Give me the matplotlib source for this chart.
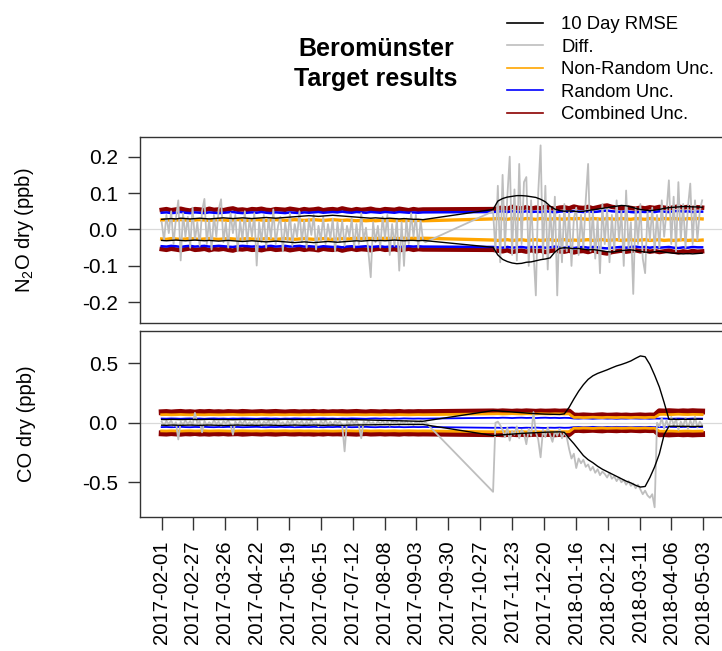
import numpy as np
import pandas as pd
import matplotlib
matplotlib.use('Agg')
import matplotlib.pyplot as plt
from matplotlib.lines import Line2D

plt.rcParams['font.family'] = ['Liberation Sans', 'DejaVu Sans']
plt.rcParams['mathtext.default'] = 'regular'

# time axes: diff every 2 days, uncertainties / rmse every 4 days (gap Sep-Nov 2017)
diff_dates = pd.DatetimeIndex(list(pd.date_range('2017-02-01', periods=112, freq='2D')) +
                              list(pd.date_range('2017-11-07', periods=89, freq='2D')))
unc_dates = pd.DatetimeIndex(list(pd.date_range('2017-02-01', periods=56, freq='4D')) +
                             list(pd.date_range('2017-11-07', periods=45, freq='4D')))

tick_labels = ['2017-02-01', '2017-02-27', '2017-03-26', '2017-04-22', '2017-05-19',
               '2017-06-15', '2017-07-12', '2017-08-08', '2017-09-03', '2017-09-30',
               '2017-10-27', '2017-11-23', '2017-12-20', '2018-01-16', '2018-02-12',
               '2018-03-11', '2018-04-06', '2018-05-03']

# ---------------- N2O ----------------
diff_n2o = [0.02, -0.03, 0.04, -0.01, 0.05, -0.04, 0.03, 0.08, -0.085, 0.045,
            -0.02, 0.035, -0.05, 0.06, -0.03, 0.02, -0.045, 0.05, 0.084, -0.04,
            0.03, -0.055, 0.04, -0.02, 0.055, 0.083, -0.035, 0.02, -0.05, 0.045,
            -0.01, 0.04, -0.06, 0.025, -0.03, 0.05, -0.04, 0.03, -0.02, 0.045,
            -0.099, 0.02, -0.035, 0.04, -0.05, 0.03, -0.025, 0.055, -0.04, 0.01,
            0.035, -0.06, 0.02, -0.03, 0.045, -0.045, 0.015, -0.02, 0.05, -0.035,
            0.025, -0.05, 0.03, -0.015, 0.04, -0.055, 0.01, -0.03, 0.035, -0.04,
            0.015, -0.025, 0.03, -0.06, 0.02, -0.035, 0.025, -0.045, 0.01, -0.02,
            0.03, -0.05, 0.015, -0.04, 0.045, -0.03, 0.005, -0.06, -0.131, 0.02,
            -0.035, 0.01, -0.05, 0.035, -0.025, 0.04, -0.07, 0.015, -0.045, 0.03,
            -0.113, 0.02, -0.1, 0.03, -0.04, 0.045, -0.02, 0.04, -0.05, 0.025,
            -0.03, -0.035,
            0.05, -0.06, 0.12, -0.09, 0.15, -0.05, 0.09, 0.2, -0.07, 0.11,
            -0.085, 0.18, -0.04, 0.13, 0.144, -0.1, 0.08, -0.06, -0.181, 0.1,
            0.231, -0.08, 0.12, -0.11, 0.06, -0.05, 0.09, -0.181, 0.04, -0.09,
            0.07, -0.06, 0.05, -0.1, 0.03, 0.06, -0.07, 0.04, -0.05, 0.08,
            0.18, -0.06, 0.05, -0.08, 0.03, -0.12, 0.07, -0.04, 0.06, -0.09,
            0.04, -0.06, 0.08, -0.03, 0.05, -0.1, 0.107, -0.05, 0.02, -0.177,
            0.06, -0.04, 0.07, -0.08, -0.12, 0.05, -0.03, 0.06, -0.06, 0.04,
            -0.05, 0.08, -0.02, 0.05, 0.135, -0.04, 0.09, -0.06, 0.13, -0.03,
            0.07, -0.05, 0.06, 0.126, -0.04, 0.08, -0.03, 0.05, 0.08]

rmse_n2o_up = [0.028, 0.029, 0.030, 0.029, 0.031, 0.030, 0.029, 0.030, 0.031, 0.030,
               0.029, 0.030, 0.031, 0.032, 0.031, 0.030, 0.031, 0.032, 0.031, 0.030,
               0.031, 0.032, 0.033, 0.032, 0.031, 0.032, 0.033, 0.034, 0.035, 0.036,
               0.037, 0.038, 0.037, 0.036, 0.037, 0.038, 0.039, 0.038, 0.037, 0.036,
               0.035, 0.034, 0.033, 0.032, 0.031, 0.032, 0.031, 0.030, 0.031, 0.030,
               0.029, 0.030, 0.029, 0.028, 0.028, 0.027,
               0.055, 0.078, 0.085, 0.089, 0.091, 0.093, 0.093, 0.092, 0.090, 0.088,
               0.083, 0.076, 0.064, 0.056, 0.052, 0.050, 0.051, 0.050, 0.049, 0.050,
               0.052, 0.054, 0.056, 0.058, 0.060, 0.062, 0.064, 0.066, 0.065, 0.062,
               0.058, 0.055, 0.053, 0.052, 0.053, 0.055, 0.058, 0.060, 0.061, 0.062,
               0.063, 0.063, 0.062, 0.062, 0.061]
rmse_n2o_lo = [-0.030, -0.031, -0.030, -0.029, -0.030, -0.031, -0.030, -0.029, -0.030, -0.031,
               -0.030, -0.031, -0.032, -0.031, -0.030, -0.031, -0.032, -0.033, -0.032, -0.031,
               -0.032, -0.033, -0.034, -0.033, -0.032, -0.033, -0.034, -0.035, -0.036, -0.035,
               -0.034, -0.035, -0.036, -0.035, -0.034, -0.033, -0.034, -0.035, -0.034, -0.033,
               -0.032, -0.031, -0.032, -0.031, -0.030, -0.031, -0.030, -0.031, -0.030, -0.029,
               -0.030, -0.031, -0.030, -0.030, -0.031, -0.030,
               -0.049, -0.070, -0.082, -0.088, -0.092, -0.094, -0.093, -0.090, -0.089, -0.086,
               -0.083, -0.081, -0.078, -0.062, -0.052, -0.050, -0.051, -0.053, -0.052, -0.054,
               -0.056, -0.055, -0.057, -0.059, -0.061, -0.062, -0.060, -0.058, -0.057, -0.056,
               -0.058, -0.060, -0.062, -0.063, -0.061, -0.060, -0.062, -0.064, -0.065, -0.066,
               -0.067, -0.066, -0.067, -0.066, -0.065]

comb_n2o = [0.054, 0.056, 0.053, 0.055, 0.057, 0.054, 0.052, 0.056, 0.055, 0.053,
            0.057, 0.054, 0.055, 0.053, 0.056, 0.058, 0.054, 0.055, 0.053, 0.056,
            0.055, 0.057, 0.054, 0.053, 0.056, 0.055, 0.054, 0.057, 0.055, 0.053,
            0.056, 0.054, 0.055, 0.057, 0.053, 0.055, 0.056, 0.054, 0.058, 0.055,
            0.053, 0.056, 0.054, 0.055, 0.057, 0.054, 0.053, 0.056, 0.055, 0.054,
            0.057, 0.055, 0.053, 0.056, 0.054, 0.055,
            0.056, 0.058, 0.060, 0.057, 0.062, 0.059, 0.058, 0.061, 0.057, 0.060,
            0.058, 0.062, 0.059, 0.057, 0.060, 0.061, 0.058, 0.063, 0.060, 0.059,
            0.062, 0.058, 0.061, 0.064, 0.066, 0.062, 0.060, 0.058, 0.061, 0.059,
            0.057, 0.060, 0.058, 0.061, 0.059, 0.062, 0.060, 0.058, 0.061, 0.063,
            0.060, 0.062, 0.059, 0.061, 0.060]
rand_n2o = [0.046, 0.047, 0.045, 0.046, 0.048, 0.046, 0.045, 0.047, 0.046, 0.045,
            0.047, 0.046, 0.045, 0.046, 0.047, 0.048, 0.046, 0.045, 0.046, 0.047,
            0.046, 0.048, 0.046, 0.045, 0.047, 0.046, 0.045, 0.047, 0.046, 0.045,
            0.047, 0.046, 0.047, 0.048, 0.046, 0.047, 0.048, 0.047, 0.049, 0.047,
            0.046, 0.048, 0.047, 0.046, 0.048, 0.047, 0.046, 0.048, 0.047, 0.046,
            0.048, 0.047, 0.046, 0.047, 0.046, 0.047,
            0.048, 0.049, 0.050, 0.048, 0.050, 0.049, 0.048, 0.050, 0.048, 0.049,
            0.048, 0.050, 0.049, 0.047, 0.049, 0.050, 0.048, 0.051, 0.049, 0.048,
            0.050, 0.048, 0.049, 0.051, 0.052, 0.050, 0.049, 0.048, 0.050, 0.048,
            0.047, 0.049, 0.048, 0.050, 0.048, 0.050, 0.049, 0.048, 0.050, 0.051,
            0.049, 0.050, 0.048, 0.049, 0.049]
nonr_n2o = [0.026, 0.027, 0.025, 0.026, 0.027, 0.026, 0.025, 0.026, 0.027, 0.026,
            0.025, 0.026, 0.027, 0.026, 0.025, 0.026, 0.027, 0.026, 0.025, 0.026,
            0.027, 0.026, 0.025, 0.026, 0.027, 0.026, 0.025, 0.026, 0.027, 0.026,
            0.025, 0.026, 0.027, 0.026, 0.025, 0.026, 0.027, 0.026, 0.025, 0.026,
            0.025, 0.024, 0.025, 0.024, 0.025, 0.024, 0.025, 0.024, 0.025, 0.024,
            0.025, 0.024, 0.025, 0.024, 0.025, 0.024,
            0.029, 0.030, 0.029, 0.028, 0.030, 0.029, 0.028, 0.030, 0.029, 0.028,
            0.030, 0.029, 0.028, 0.030, 0.029, 0.028, 0.030, 0.029, 0.030, 0.029,
            0.028, 0.030, 0.029, 0.028, 0.030, 0.029, 0.028, 0.030, 0.029, 0.028,
            0.030, 0.029, 0.028, 0.030, 0.029, 0.028, 0.030, 0.029, 0.030, 0.029,
            0.028, 0.030, 0.029, 0.030, 0.029]

# ---------------- CO ----------------
diff_co = [0.01, -0.02, 0.015, -0.01, 0.02, -0.025, 0.005, -0.14, 0.01, -0.015,
           0.02, -0.01, 0.015, -0.02, 0.084, -0.005, 0.01, -0.08, 0.015, -0.02,
           0.005, -0.015, 0.02, -0.01, 0.01, -0.025, 0.015, -0.005, 0.02, -0.015,
           -0.1, 0.01, -0.02, 0.015, -0.01, 0.02, -0.015, 0.005, -0.02, 0.01,
           -0.01, 0.02, -0.025, 0.01, -0.005, 0.015, -0.02, 0.01, -0.015, 0.02,
           -0.01, 0.005, -0.02, 0.015, -0.01, 0.02, -0.025, 0.01, -0.005, 0.015,
           -0.02, 0.01, -0.015, 0.02, -0.01, 0.005, -0.03, 0.015, -0.01, 0.02,
           -0.015, 0.01, -0.02, 0.015, -0.005, 0.01, -0.02, -0.24, 0.01, -0.015,
           0.02, -0.01, 0.015, -0.02, -0.13, 0.01, -0.015, 0.02, -0.01, 0.005,
           -0.02, 0.015, -0.01, 0.02, -0.015, 0.01, -0.025, 0.015, -0.005, 0.01,
           -0.02, 0.015, -0.01, 0.02, -0.015, 0.005, -0.02, 0.01, -0.01, 0.015,
           -0.01, 0.005,
           -0.58, 0.0, 0.01, -0.02, -0.06, -0.12, -0.04, -0.15, -0.07, -0.1,
           -0.03, -0.13, -0.06, -0.09, -0.18, -0.05, -0.11, 0.09, -0.08, -0.14,
           -0.29, -0.06, -0.12, -0.04, -0.1, -0.16, -0.07, -0.11, -0.05, -0.13,
           -0.08, -0.12, -0.22, -0.3, -0.26, -0.38, -0.3, -0.34, -0.31, -0.37,
           -0.35, -0.4, -0.37, -0.42, -0.39, -0.44, -0.41, -0.43, -0.46, -0.42,
           -0.47, -0.45, -0.49, -0.46, -0.5, -0.48, -0.52, -0.49, -0.53, -0.51,
           -0.55, -0.52, -0.56, -0.6, -0.57, -0.61, -0.63, -0.6, -0.71, 0.0,
           -0.03, 0.04, -0.05, 0.02, -0.04, 0.05, -0.02, 0.03, -0.06, 0.01,
           -0.03, 0.04, -0.05, 0.02, -0.03, 0.05, -0.04, 0.01, -0.02]

rmse_co_up = [0.028, 0.027, 0.029, 0.028, 0.027, 0.028, 0.029, 0.028, 0.027, 0.028,
              0.029, 0.028, 0.027, 0.028, 0.027, 0.026, 0.027, 0.028, 0.027, 0.026,
              0.027, 0.028, 0.027, 0.026, 0.027, 0.028, 0.029, 0.028, 0.027, 0.028,
              0.027, 0.026, 0.027, 0.028, 0.027, 0.028, 0.029, 0.028, 0.027, 0.026,
              0.027, 0.026, 0.025, 0.024, 0.023, 0.022, 0.021, 0.020, 0.019, 0.018,
              0.017, 0.016, 0.015, 0.014, 0.013, 0.013,
              0.103, 0.100, 0.097, 0.094, 0.091, 0.088, 0.085, 0.082, 0.079, 0.077,
              0.075, 0.073, 0.072, 0.071, 0.070, 0.075, 0.130, 0.200, 0.265, 0.320,
              0.365, 0.395, 0.415, 0.430, 0.445, 0.462, 0.478, 0.490, 0.504, 0.520,
              0.542, 0.562, 0.555, 0.490, 0.400, 0.300, 0.170, 0.030, 0.030, 0.028,
              0.030, 0.029, 0.030, 0.031, 0.030]
rmse_co_lo = [-0.020, -0.021, -0.019, -0.020, -0.021, -0.020, -0.019, -0.020, -0.021, -0.020,
              -0.019, -0.020, -0.021, -0.022, -0.021, -0.020, -0.019, -0.020, -0.021, -0.020,
              -0.021, -0.020, -0.019, -0.020, -0.021, -0.022, -0.021, -0.020, -0.019, -0.020,
              -0.021, -0.020, -0.019, -0.020, -0.021, -0.020, -0.019, -0.020, -0.021, -0.020,
              -0.019, -0.018, -0.018, -0.017, -0.017, -0.016, -0.016, -0.015, -0.015, -0.015,
              -0.014, -0.014, -0.014, -0.014, -0.014, -0.014,
              -0.107, -0.104, -0.101, -0.098, -0.095, -0.092, -0.089, -0.087, -0.085, -0.083,
              -0.081, -0.079, -0.078, -0.077, -0.076, -0.080, -0.130, -0.175, -0.225, -0.275,
              -0.310, -0.335, -0.365, -0.390, -0.410, -0.430, -0.450, -0.470, -0.490, -0.505,
              -0.525, -0.540, -0.535, -0.460, -0.370, -0.260, -0.100, -0.030, -0.028, -0.030,
              -0.029, -0.030, -0.031, -0.030, -0.029]

comb_co = [0.089, 0.091, 0.087, 0.090, 0.092, 0.088, 0.090, 0.086, 0.091, 0.089,
           0.092, 0.088, 0.090, 0.087, 0.091, 0.089, 0.088, 0.092, 0.090, 0.087,
           0.089, 0.091, 0.088, 0.090, 0.092, 0.089, 0.087, 0.090, 0.091, 0.088,
           0.090, 0.089, 0.092, 0.088, 0.091, 0.087, 0.090, 0.089, 0.091, 0.088,
           0.090, 0.092, 0.089, 0.087, 0.091, 0.090, 0.088, 0.091, 0.089, 0.090,
           0.092, 0.088, 0.090, 0.089, 0.091, 0.090,
           0.096, 0.094, 0.097, 0.095, 0.093, 0.096, 0.094, 0.097, 0.095, 0.093,
           0.096, 0.094, 0.095, 0.097, 0.094, 0.096, 0.095,
           0.062, 0.060, 0.063, 0.061, 0.059, 0.062, 0.064, 0.060, 0.061, 0.063,
           0.060, 0.062, 0.059, 0.061, 0.063, 0.060, 0.062, 0.061,
           0.097, 0.095, 0.098, 0.096, 0.094, 0.097, 0.095, 0.098, 0.096, 0.095]
rand_co = [0.036, 0.035, 0.037, 0.036, 0.034, 0.036, 0.037, 0.035, 0.036, 0.034,
           0.036, 0.037, 0.035, 0.036, 0.034, 0.036, 0.035, 0.037, 0.036, 0.035,
           0.034, 0.036, 0.037, 0.035, 0.036, 0.034, 0.036, 0.035, 0.037, 0.036,
           0.035, 0.036, 0.034, 0.036, 0.037, 0.035, 0.036, 0.034, 0.036, 0.035,
           0.037, 0.036, 0.035, 0.034, 0.036, 0.037, 0.035, 0.036, 0.034, 0.036,
           0.035, 0.037, 0.036, 0.035, 0.036, 0.035,
           0.042, 0.041, 0.043, 0.042, 0.040, 0.042, 0.043, 0.041, 0.042, 0.040,
           0.042, 0.043, 0.041, 0.042, 0.040, 0.042, 0.041,
           0.036, 0.035, 0.037, 0.036, 0.034, 0.036, 0.037, 0.035, 0.036, 0.034,
           0.036, 0.035, 0.037, 0.036, 0.035, 0.036, 0.034, 0.036,
           0.035, 0.036, 0.034, 0.035, 0.036, 0.035, 0.034, 0.036, 0.035, 0.035]
nonr_co = [0.068, 0.069, 0.067, 0.068, 0.070, 0.068, 0.067, 0.069, 0.068, 0.067,
           0.069, 0.068, 0.067, 0.068, 0.069, 0.070, 0.068, 0.067, 0.068, 0.069,
           0.068, 0.070, 0.068, 0.067, 0.069, 0.068, 0.067, 0.069, 0.068, 0.067,
           0.069, 0.068, 0.069, 0.070, 0.068, 0.069, 0.070, 0.069, 0.068, 0.067,
           0.068, 0.069, 0.068, 0.067, 0.069, 0.068, 0.067, 0.069, 0.068, 0.067,
           0.069, 0.068, 0.067, 0.068, 0.069, 0.068,
           0.075, 0.076, 0.074, 0.075, 0.077, 0.075, 0.074, 0.076, 0.075, 0.074,
           0.076, 0.075, 0.074, 0.076, 0.075, 0.074, 0.075,
           0.045, 0.046, 0.044, 0.045, 0.047, 0.045, 0.044, 0.046, 0.045, 0.044,
           0.046, 0.045, 0.044, 0.046, 0.045, 0.044, 0.046, 0.045,
           0.070, 0.071, 0.069, 0.070, 0.072, 0.070, 0.069, 0.071, 0.070, 0.069]

c_rmse = 'black'
c_diff = '#BEBEBE'
c_nonr = '#FFA500'
c_rand = '#0000FF'
c_comb = '#8B0000'


def draw_panel(ax, diff, rup, rlo, comb, rand, nonr, lw_comb, lw_rand, lw_nonr):
    comb = np.array(comb)
    rand = np.array(rand)
    nonr = np.array(nonr)
    ax.axhline(0, color='#D9D9D9', lw=0.9, zorder=0)
    ax.plot(unc_dates, comb, color=c_comb, lw=lw_comb)
    ax.plot(unc_dates, -comb, color=c_comb, lw=lw_comb)
    ax.plot(unc_dates, rand, color=c_rand, lw=lw_rand)
    ax.plot(unc_dates, -rand, color=c_rand, lw=lw_rand)
    ax.plot(unc_dates, nonr, color=c_nonr, lw=lw_nonr)
    ax.plot(unc_dates, -nonr, color=c_nonr, lw=lw_nonr)
    ax.plot(diff_dates, diff, color=c_diff, lw=1.3)
    ax.plot(unc_dates, rup, color=c_rmse, lw=1.0)
    ax.plot(unc_dates, rlo, color=c_rmse, lw=1.0)


fig = plt.figure(figsize=(7.22, 6.51), dpi=100)
ax1 = fig.add_axes([140 / 722, 1 - 322.7 / 651, 585 / 722, 185.7 / 651])
ax2 = fig.add_axes([140 / 722, 1 - 516.7 / 651, 585 / 722, 186 / 651])

draw_panel(ax1, diff_n2o, rmse_n2o_up, rmse_n2o_lo, comb_n2o, rand_n2o, nonr_n2o, 3.2, 1.8, 2.4)
draw_panel(ax2, diff_co, rmse_co_up, rmse_co_lo, comb_co, rand_co, nonr_co, 4.2, 1.3, 2.0)

t0 = pd.Timestamp(tick_labels[0])
t1 = pd.Timestamp(tick_labels[-1])
pad = (t1 - t0) * 0.04
for ax in (ax1, ax2):
    ax.set_xlim(t0 - pad, t1 + pad)
    for s in ax.spines.values():
        s.set_color('#333333')
        s.set_linewidth(1.0)
    ax.tick_params(axis='y', length=9, width=1, pad=7, labelsize=15, color='#333333')

ax1.set_ylim(-0.256, 0.254)
ax1.set_yticks([0.2, 0.1, 0.0, -0.1, -0.2])
ax1.set_yticklabels(['0.2', '0.1', '0.0', '-0.1', '-0.2'])
ax1.set_xticks([])

ax2.set_ylim(-0.789, 0.774)
ax2.set_yticks([0.5, 0.0, -0.5])
ax2.set_yticklabels(['0.5', '0.0', '-0.5'])
ax2.set_xticks(pd.to_datetime(tick_labels))
ax2.set_xticklabels(tick_labels, rotation=90)
ax2.tick_params(axis='x', length=9, width=1, pad=8, labelsize=14.6, color='#333333')

ax1.set_ylabel('$N_2O$ dry (ppb)', fontsize=14.5)
ax2.set_ylabel('CO dry (ppb)', fontsize=14.5)
ax1.yaxis.set_label_coords(-0.178, 0.5)
ax2.yaxis.set_label_coords(-0.178, 0.5)

fig.text(376 / 722, 1 - 64 / 651, 'Beromünster\nTarget results', ha='center', va='center',
         fontsize=18, fontweight='bold', linespacing=1.28)

handles = [Line2D([], [], color=c_rmse, lw=1.2),
           Line2D([], [], color=c_diff, lw=1.2),
           Line2D([], [], color=c_nonr, lw=1.2),
           Line2D([], [], color=c_rand, lw=1.2),
           Line2D([], [], color=c_comb, lw=1.2)]
labels = ['10 Day RMSE', 'Diff.', 'Non-Random Unc.', 'Random Unc.', 'Combined Unc.']
fig.legend(handles, labels, loc='upper left', bbox_to_anchor=(507 / 722, 1 - 16 / 651),
           frameon=False, fontsize=13.3, handlelength=1.95, handletextpad=1.0,
           labelspacing=0.3, borderpad=0, borderaxespad=0)

fig.savefig('out.png', dpi=100)
